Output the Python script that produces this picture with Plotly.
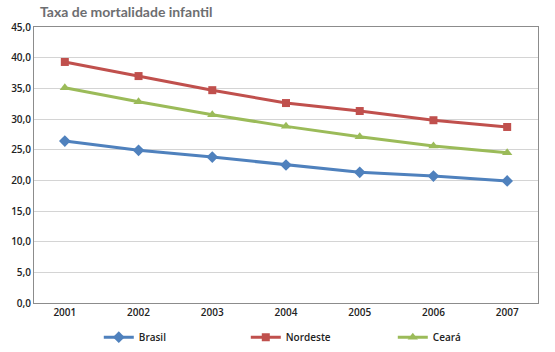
import plotly.graph_objects as go

years = ["2001", "2002", "2003", "2004", "2005", "2006", "2007"]
brasil = [26.4, 24.9, 23.8, 22.5, 21.3, 20.7, 19.9]
nordeste = [39.3, 37.0, 34.7, 32.6, 31.3, 29.8, 28.7]
ceara = [35.1, 32.8, 30.7, 28.8, 27.1, 25.6, 24.5]
y_ticks = [0, 5, 10, 15, 20, 25, 30, 35, 40, 45]

series = [
    ("Brasil", brasil, "#4F81BD", "diamond", 9),
    ("Nordeste", nordeste, "#C0504D", "square", 8),
    ("Ceará", ceara, "#9BBB59", "triangle-up", 9),
]

fig = go.Figure()
for name, vals, color, sym, sz in series:
    fig.add_trace(go.Scatter(
        x=years, y=vals, name=name, mode="lines+markers",
        line=dict(color=color, width=3),
        marker=dict(symbol=sym, size=sz, color=color),
    ))

fig.update_layout(
    width=555, height=352,
    margin=dict(l=34, r=17, t=27, b=49, autoexpand=False),
    paper_bgcolor="white", plot_bgcolor="white",
    separators=",.",
    font=dict(family="Open Sans", size=10, color="#222"),
    title=dict(text="<b>Taxa de mortalidade infantil</b>", x=0.072, xanchor="left",
               y=0.965, yanchor="middle",
               font=dict(family="Lato", size=14, color="#6d6e71")),
    showlegend=True,
    legend=dict(orientation="h", xref="container", yref="container",
                x=0.178, xanchor="left", y=0.042, yanchor="middle",
                entrywidth=102, entrywidthmode="pixels",
                font=dict(size=10, color="#222", weight=600), itemwidth=30),
    xaxis=dict(type="category", showline=True, linecolor="#8c8c8c", linewidth=1,
               mirror=True, ticks="", showgrid=False,
               tickfont=dict(size=10, weight=600)),
    yaxis=dict(range=[0, 45], tickvals=y_ticks, tickformat=".1f",
               showline=True, linecolor="#8c8c8c", linewidth=1, mirror=True,
               gridcolor="#d4d4d4", gridwidth=1, zeroline=False,
               tickfont=dict(size=10, weight=600)),
)

fig.write_html("out.html")
